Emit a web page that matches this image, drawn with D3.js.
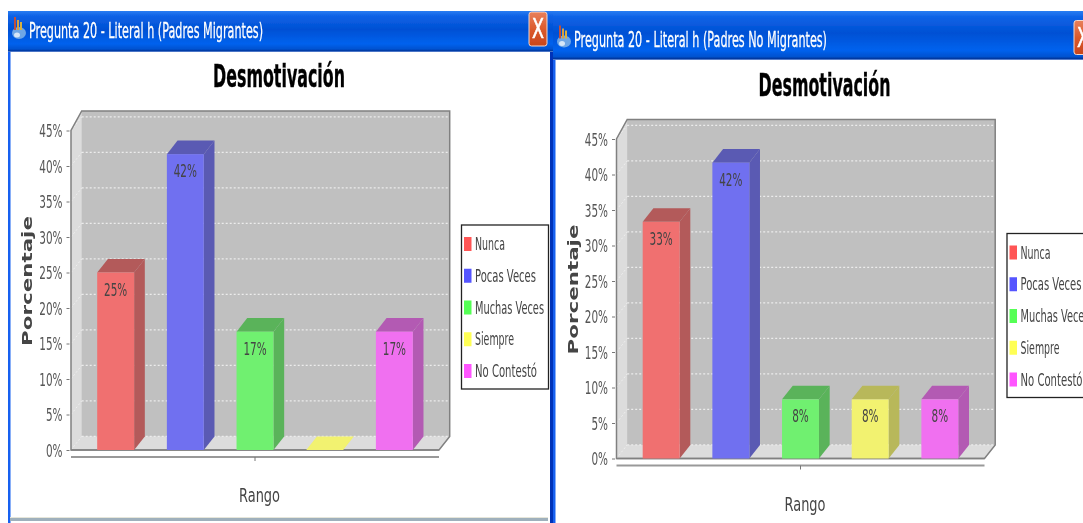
<!DOCTYPE html>
<html><head><meta charset="utf-8">
<script src="https://cdn.jsdelivr.net/npm/d3@7"></script>
<style>html,body{margin:0;padding:0;background:#fff;overflow:hidden}svg{display:block}text{font-family:"DejaVu Sans",sans-serif}</style>
</head><body><svg id="c" width="1083" height="523"></svg>
<script>
const categories = ["Nunca","Pocas Veces","Muchas Veces","Siempre","No Contestó"];
const migrantes = [25,41.67,16.67,0,16.67];
const noMigrantes = [33.33,41.67,8.33,8.33,8.33];
const yTicks = [0,5,10,15,20,25,30,35,40,45];
const chartTitle = "Desmotivación";
const xLabel = "Rango";
const yLabel = "Porcentaje";
const windowTitles = ["Pregunta 20 - Literal h (Padres Migrantes)","Pregunta 20 - Literal h (Padres No Migrantes)"];
const front = ["#f07070","#7070f0","#70f070","#f2f270","#f070f0"];
const side = ["#b35a5a","#5a5ab3","#5ab35a","#b8b85a","#b35ab3"];
const swatch = ["#ff5555","#5555ff","#55ff55","#ffff55","#ff55ff"];

const svg = d3.select("#c");
const defs = svg.append("defs");
const tg = defs.append("linearGradient").attr("id","tb").attr("x1",0).attr("x2",0).attr("y1",0).attr("y2",1);
[[0,"#2a7df2"],[.12,"#0f63e6"],[.45,"#0050d4"],[.8,"#0062ee"],[.93,"#0052d0"],[.97,"#0038a0"],[1,"#7f9fe0"]].forEach(d=>tg.append("stop").attr("offset",d[0]).attr("stop-color",d[1]));
const cg = defs.append("linearGradient").attr("id","cl").attr("x1",0).attr("x2",0).attr("y1",0).attr("y2",1);
[[0,"#e8805c"],[.5,"#dc5a2c"],[1,"#c8451c"]].forEach(d=>cg.append("stop").attr("offset",d[0]).attr("stop-color",d[1]));
const blur = defs.append("filter").attr("id","soft").attr("x","-2%").attr("y","-2%").attr("width","104%").attr("height","104%");
blur.append("feGaussianBlur").attr("stdDeviation",0.45);

const root = svg.append("g").attr("filter","url(#soft)");

function fit(sel,w){ sel.attr("textLength",w).attr("lengthAdjust","spacingAndGlyphs"); return sel; }
function squeeze(sel,k){ sel.each(function(){ const n=this.getComputedTextLength(); d3.select(this).attr("textLength",n*k).attr("lengthAdjust","spacingAndGlyphs"); }); }

function drawWindow(x,w,h,title,i,tw){
  const g = root.append("g");
  g.append("rect").attr("x",x).attr("y",11).attr("width",w).attr("height",512).attr("fill","#fff");
  g.append("rect").attr("x",x).attr("y",11).attr("width",w).attr("height",h).attr("fill","url(#tb)");
  g.append("rect").attr("x",x).attr("y",11+h).attr("width",2.5).attr("height",512-h).attr("fill","#1560f0");
  const dy = i*8.5, dx = i*545;
  const ic = g.append("g").attr("transform",`translate(${dx},${dy})`);
  ic.append("ellipse").attr("cx",19).attr("cy",33).attr("rx",7).attr("ry",6).attr("fill","#6ea6e6");
  ic.append("ellipse").attr("cx",17).attr("cy",35).attr("rx",3).attr("ry",2.5).attr("fill","#d5e6f8");
  [[14,"#c0503c",17],[17,"#d8a040",20],[20,"#d8b040",22]].forEach(b=>ic.append("rect").attr("x",b[0]).attr("y",b[2]).attr("width",2).attr("height",30-b[2]).attr("fill",b[1]));
  fit(ic.append("text").attr("x",29).attr("y",38).attr("font-size",21).attr("fill","#fff").attr("stroke","#fff").attr("stroke-width",0.3).text(title),tw);
  g.append("rect").attr("x",529+dx).attr("y",12+dy).attr("width",18).attr("height",34).attr("rx",2.5)
    .attr("fill","url(#cl)").attr("stroke","#f2d8cc").attr("stroke-width",1);
  fit(g.append("text").attr("x",538+dx).attr("y",38+dy).attr("font-size",26).attr("fill","#fff").attr("stroke","#fff").attr("stroke-width",0.6).attr("text-anchor","middle").text("X"),12);
}
drawWindow(553,530,49,windowTitles[1],1,253);
drawWindow(8,545,41,windowTitles[0],0,234);
root.append("rect").attr("x",550).attr("y",52).attr("width",3).attr("height",471).attr("fill","#0030b8");
root.append("rect").attr("x",10).attr("y",518).attr("width",538).attr("height",3).attr("fill","#9fb0bc");
root.append("rect").attr("x",10).attr("y",517).attr("width",538).attr("height",1).attr("fill","#e6e6da");

function drawChart(values,tx,ty){
  const g = root.append("g").attr("transform",`translate(${tx},${ty})`);
  const L=71,R=439,B=450,T=130.5,DX=10.7,DY=13.6;
  const y = d3.scaleLinear().domain([0,45]).range([B,T]);
  const x = d3.scaleBand().domain(categories).range([L,R]).paddingInner(0.47).paddingOuter(0.376);
  g.append("path").attr("d",`M${L},${B}L${L},${T}L${L+DX},${T-DY-6}L${R+DX},${T-DY-6}L${R+DX},${B-DY}L${R},${B}Z`).attr("fill","#dcdcdc");
  g.append("rect").attr("x",L+DX).attr("y",T-DY-6).attr("width",R-L).attr("height",B-T+6).attr("fill","#c0c0c0");
  g.selectAll(".gb").data(yTicks).enter().append("line").attr("x1",L+DX).attr("x2",R+DX).attr("y1",d=>y(d)-DY).attr("y2",d=>y(d)-DY)
    .attr("stroke","#ececec").attr("stroke-width",1.1).attr("stroke-dasharray","2 2");
  g.selectAll(".gs").data(yTicks).enter().append("line").attr("x1",L).attr("x2",L+DX).attr("y1",d=>y(d)).attr("y2",d=>y(d)-DY)
    .attr("stroke","#eeeeee").attr("stroke-width",1).attr("stroke-dasharray","2 2");
  g.append("path").attr("d",`M${L},${B}L${L},${T}L${L+DX},${T-DY-6}L${R+DX},${T-DY-6}L${R+DX},${B-DY}L${R},${B}Z`).attr("fill","none").attr("stroke","#808080").attr("stroke-width",1.5);
  g.append("line").attr("x1",L).attr("x2",R).attr("y1",B).attr("y2",B).attr("stroke","#808080").attr("stroke-width",1.5);
  const bw = x.bandwidth();
  const bars = g.selectAll(".b").data(categories.map((c,i)=>({c,i,v:values[i]}))).enter().append("g");
  bars.append("path").attr("d",d=>{const a=x(d.c),t=y(d.v);return `M${a},${t}L${a+DX},${t-DY}L${a+bw+DX},${t-DY}L${a+bw},${t}Z`;})
    .attr("fill",d=>d.v>0?side[d.i]:front[d.i]);
  bars.filter(d=>d.v>0).append("path").attr("d",d=>{const a=x(d.c)+bw,t=y(d.v);return `M${a},${t}L${a+DX},${t-DY}L${a+DX},${B-DY}L${a},${B}Z`;})
    .attr("fill",d=>side[d.i]);
  bars.filter(d=>d.v>0).append("rect").attr("x",d=>x(d.c)).attr("y",d=>y(d.v)).attr("width",bw).attr("height",d=>B-y(d.v)).attr("fill",d=>front[d.i]);
  const lbl = bars.filter(d=>d.v>0).append("text").attr("x",d=>x(d.c)+bw/2).attr("y",d=>y(d.v)+23).attr("text-anchor","middle")
    .attr("font-size",18).attr("fill","#444").text(d=>Math.round(d.v)+"%");
  squeeze(lbl,0.58);
  const ax = g.append("g").attr("transform",`translate(${L-1.5},0)`).call(d3.axisLeft(y).tickValues(yTicks).tickFormat(d=>d+"%").tickSize(3).tickPadding(4));
  ax.select(".domain").remove();
  ax.selectAll("line").attr("stroke","#777");
  ax.selectAll("text").attr("font-size",18).attr("fill","#555").attr("font-family",'"DejaVu Sans"').attr("dy","0.36em");
  squeeze(ax.selectAll("text"),0.58);
  const xs = d3.scaleBand().domain([xLabel]).range([L,R]);
  const bx = g.append("g").attr("transform",`translate(0,457)`).call(d3.axisBottom(xs).tickSize(4).tickFormat(""));
  bx.select(".domain").attr("stroke","#999").attr("stroke-width",2).attr("d",`M${L},0H${R}`);
  bx.selectAll("line").attr("stroke","#777");
  fit(g.append("text").attr("x",259.5).attr("y",502).attr("text-anchor","middle").attr("font-size",20).attr("fill","#444").text(xLabel),41);
  fit(g.append("text").attr("transform","translate(32,281) rotate(-90)").attr("text-anchor","middle").attr("font-size",13.5).attr("font-weight","bold").attr("fill","#444").text(yLabel),130);
  fit(g.append("text").attr("x",279).attr("y",87).attr("text-anchor","middle").attr("font-size",32).attr("font-weight","bold").attr("fill","#000").attr("stroke","#000").attr("stroke-width",0.4).text(chartTitle),132);
  g.append("rect").attr("x",461.5).attr("y",225).attr("width",87).attr("height",164).attr("fill","#fff").attr("stroke","#222").attr("stroke-width",1.3);
  const ly = d3.scalePoint().domain(categories).range([244,371]);
  const lwidths = [30,61,69,39,62];
  categories.forEach((c,i)=>{
    g.append("rect").attr("x",464).attr("y",ly(c)-7).attr("width",7.5).attr("height",14).attr("fill",swatch[i]);
    fit(g.append("text").attr("x",475).attr("y",ly(c)+6).attr("font-size",18).attr("fill","#444").text(c),lwidths[i]);
  });
}
drawChart(noMigrantes,545.5,8.5);
drawChart(migrantes,0,0);
</script></body></html>
